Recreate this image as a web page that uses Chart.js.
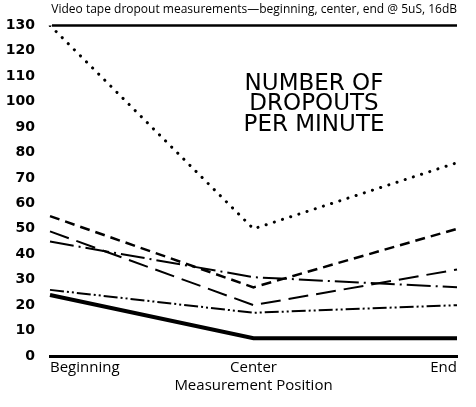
<!DOCTYPE html>
<html>
<head>
<meta charset="utf-8">
<script src="https://cdn.jsdelivr.net/npm/chart.js@4/dist/chart.umd.min.js"></script>
<style>
  html, body { margin: 0; padding: 0; background: #fff; }
  #wrap { width: 476px; height: 407px; }
</style>
</head>
<body>
<div id="wrap"><canvas id="dropouts"></canvas></div>
<script>
// positions along the tape
const positions = ['Beginning', 'Center', 'End'];

// dropouts per minute, one array per tape
const tapeDotted = [130, 50, 76];
const tapeShortDash = [55, 27, 50];
const tapeLongDash = [49, 20, 34];
const tapeDashDot = [45, 31, 27];
const tapeDashDotDot = [26, 17, 20];
const tapeSolid = [24, 7, 7];

const yTicks = [0, 10, 20, 30, 40, 50, 60, 70, 80, 90, 100, 110, 120, 130];

const titleText = 'Video tape dropout measurements\u2014beginning, center, end @ 5uS, 16dB';
const noteLines = ['NUMBER OF', 'DROPOUTS', 'PER MINUTE'];

function series(data, dash, width, cap) {
  return {
    data: data,
    borderColor: '#000',
    borderWidth: width,
    borderDash: dash,
    borderCapStyle: cap || 'butt',
    pointRadius: 0,
    tension: 0,
    fill: false
  };
}

// top frame line at 130 and the big note inside the plot
const extras = {
  id: 'extras',
  afterDraw(chart) {
    const ctx = chart.ctx;
    const area = chart.chartArea;
    const y = chart.scales.y;
    ctx.save();
    ctx.strokeStyle = '#000';
    ctx.lineWidth = 2.5;
    ctx.beginPath();
    const yTop = y.getPixelForValue(130);
    ctx.moveTo(area.left + 2, yTop);
    ctx.lineTo(area.right, yTop);
    ctx.stroke();

    ctx.fillStyle = '#000';
    ctx.font = '23px "DejaVu Sans"';
    ctx.textAlign = 'center';
    ctx.textBaseline = 'alphabetic';
    noteLines.forEach((t, i) => ctx.fillText(t, 314, 90 + i * 20.3));
    ctx.restore();
  }
};

new Chart(document.getElementById('dropouts'), {
  type: 'line',
  data: {
    labels: positions,
    datasets: [
      series(tapeDotted, [0.1, 8.5], 3, 'round'),
      series(tapeShortDash, [10, 6], 2.5),
      series(tapeLongDash, [20, 8], 2),
      series(tapeDashDot, [24, 5, 2, 5], 2),
      series(tapeDashDotDot, [14, 3, 2, 3, 2, 3], 2),
      series(tapeSolid, [], 4)
    ]
  },
  options: {
    responsive: true,
    maintainAspectRatio: false,
    animation: false,
    layout: { padding: { left: 0, right: 19, top: 0, bottom: 0 } },
    plugins: {
      legend: { display: false },
      tooltip: { enabled: false },
      title: {
        display: true,
        text: titleText,
        color: '#000',
        font: { family: 'Open Sans', size: 12, weight: 'normal' },
        padding: { top: 2, bottom: 9 },
        align: 'end'
      }
    },
    scales: {
      x: {
        offset: false,
        grid: { display: false, drawTicks: false },
        border: { display: true, color: '#000', width: 3 },
        ticks: {
          align: 'inner',
          color: '#000',
          padding: 3,
          maxRotation: 0,
          font: { family: 'Open Sans', size: 15 }
        },
        title: {
          display: true,
          text: 'Measurement Position',
          color: '#000',
          padding: { top: -4, bottom: 12 },
          font: { family: 'Open Sans', size: 15 }
        },
        afterFit: s => { s.height = 51; }
      },
      y: {
        min: 0,
        max: 130,
        afterBuildTicks: s => { s.ticks = yTicks.map(v => ({ value: v })); },
        grid: { display: false, drawTicks: false },
        border: { display: false },
        ticks: {
          color: '#000',
          padding: 15,
          font: { family: 'DejaVu Sans', size: 14, weight: 'bold' }
        },
        afterFit: s => { s.width = 50; }
      }
    }
  },
  plugins: [extras]
});
</script>
</body>
</html>
